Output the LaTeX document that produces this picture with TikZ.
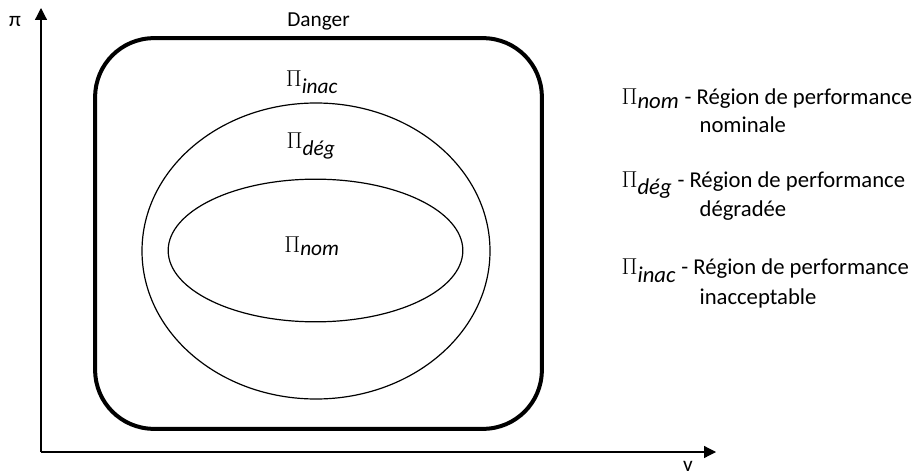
\documentclass[tikz,border=0pt]{standalone}
\usepackage{fontspec}
\setmainfont{Carlito}
\usepackage{tikz}
\usetikzlibrary{shapes.geometric,arrows.meta,positioning}
\tikzset{
  axis/.style   ={-{Triangle[length=9pt,width=9pt]}, line width=0.9pt, draw=black},
  danger/.style ={rectangle, rounded corners=44pt, draw=black, line width=3pt,
                  minimum width=335pt, minimum height=293pt, inner sep=0pt},
  region/.style ={ellipse, draw=black, line width=0.9pt, inner sep=0pt},
  lbl/.style    ={font=\fontsize{16}{19}\selectfont, inner sep=1pt},
  legend/.style ={font=\fontsize{17}{20}\selectfont, anchor=west, inner sep=1pt}
}

\begin{document}
\begin{tikzpicture}[x=0.75pt,y=-0.75pt]
% frame of the picture (pixel units)
\useasboundingbox (0,0) rectangle (916,474);

% Axes
\coordinate (origin) at (41,452);
\coordinate (ytip) at (41,8);
\coordinate (xtip) at (716,452);
\draw[axis] (origin) -- (ytip);
\draw[axis] (origin) -- (xtip);
\node[lbl] (pi) at (15,21) {π};
\node[lbl, anchor=south, inner sep=0pt] (v) at (688,472) {v};

% Regions
\node[danger] (dang) at (318.5,233.5) {};
\node[lbl, above=3pt of dang] (dlbl) {Danger};
\node[region, minimum width=261pt, minimum height=222pt] (deg) at (316,251) {};
\node[region, minimum width=221pt, minimum height=107pt] (nom) at (315.5,250.5) {};
\node[lbl] (inac) at (312,82) {$\Pi_{\textit{inac}}$};
\node[lbl] (degl) at (311,146) {$\Pi_{\textit{dég}}$};
\node[lbl] (noml) at (312,246) {$\Pi_{\textit{nom}}$};

% Legend
\node[legend] (l1) at (620,99) {$\Pi_{\textit{nom}}$ - Région de performance};
\node[legend] (l1b) at (698,125) {nominale};
\node[legend] (l2) at (620,185) {$\Pi_{\textit{dég}}$ - Région de performance};
\node[legend] (l2b) at (698,211) {dégradée};
\node[legend] (l3) at (620,271) {$\Pi_{\textit{inac}}$ - Région de performance};
\node[legend] (l3b) at (698,298) {inacceptable};
\end{tikzpicture}
\end{document}
